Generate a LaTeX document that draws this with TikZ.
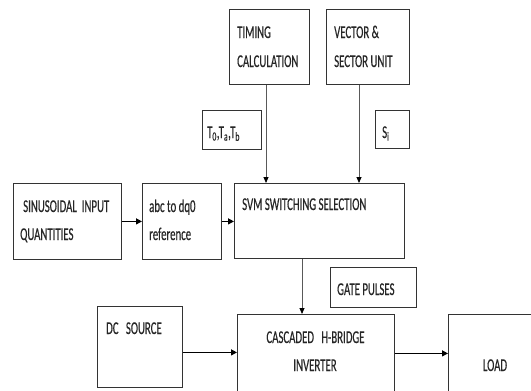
\documentclass[tikz,border=0pt]{standalone}
\usepackage{fontspec}
\newfontfamily\cf[FakeStretch=0.6,FakeBold=0.4]{Carlito}
\usetikzlibrary{arrows.meta,calc}
\begin{document}
\begin{tikzpicture}[x=1pt,y=-1pt,
  box/.style={draw=black!80, line width=0.8pt, anchor=north west, inner sep=0pt},
  lbl/.style={anchor=base west, inner sep=0pt, text=black!85, font=\cf\fontsize{18}{18}\selectfont},
  clbl/.style={anchor=base, inner sep=0pt, text=black!85, font=\cf\fontsize{18}{18}\selectfont},
  varr/.style={draw=black!65, line width=0.8pt, -{Triangle[length=6pt,width=5pt,fill=black,color=black]}},
  harr/.style={draw=black, line width=1.2pt, -{Triangle[length=6pt,width=6pt]}}]
\useasboundingbox (0,0) rectangle (531,391);
\clip (0,0) rectangle (531,391);
\fill[white] (0,0) rectangle (531,391);
% boxes
\node[box, minimum width=80pt, minimum height=75pt] (timing) at (229,9) {};
\node[box, minimum width=83pt, minimum height=75pt] (vec) at (326,9) {};
\node[box, minimum width=59pt, minimum height=39pt] (tbox) at (202,110) {};
\node[box, minimum width=34pt, minimum height=38pt] (sbox) at (375,110) {};
\node[box, minimum width=108pt, minimum height=76pt] (sin) at (13,183) {};
\node[box, minimum width=79pt, minimum height=76pt] (abc) at (142,183) {};
\node[box, minimum width=170pt, minimum height=75pt] (svm) at (234,183) {};
\node[box, minimum width=86pt, minimum height=40pt] (gate) at (330,267) {};
\node[box, minimum width=85pt, minimum height=81pt] (dc) at (97,306) {};
\node[box, minimum width=157pt, minimum height=90pt] (chb) at (237,314) {};
\node[box, minimum width=112pt, minimum height=90pt] (load) at (448,314) {};
% texts
\node[lbl] (t1) at (237,38) {TIMING};
\node[lbl] (t2) at (237,67) {CALCULATION};
\node[lbl] (v1) at (334,38) {VECTOR \&};
\node[lbl] (v2) at (334,67) {SECTOR UNIT};
\node[lbl] (tt) at (207,138) {T\textsubscript{0},T\textsubscript{a},T\textsubscript{b}};
\node[lbl] (st) at (382,138) {S\textsubscript{i}};
\node[lbl] (s1) at (23,212) {SINUSOIDAL\ \ INPUT};
\node[lbl] (s2) at (20,240) {QUANTITIES};
\node[lbl] (a1) at (149,212) {abc to dq0};
\node[lbl] (a2) at (149,240) {reference};
\node[lbl] (svt) at (242,210) {SVM SWITCHING SELECTION};
\node[lbl] (gt) at (337,295) {GATE PULSES};
\node[lbl] (dct) at (106,334) {DC\ \ \ SOURCE};
\node[clbl] (c1) at (315.5,343) {CASCADED\ \ \ H-BRIDGE};
\node[clbl] (c2) at (315,371) {INVERTER};
\node[clbl] (lt) at (495,371) {LOAD};
% connectors
\draw[varr] ([xshift=37pt]timing.south west) -- ([xshift=37pt]timing.south west |- svm.north);
\draw[varr] ([xshift=33pt]vec.south west) -- ([xshift=33pt]vec.south west |- svm.north);
\draw[varr] ([xshift=68pt]svm.south west) -- ([xshift=68pt]svm.south west |- chb.north);
\draw[harr] (sin.east) -- (abc.west);
\draw[harr] (abc.east) -- (abc.east -| svm.west);
\draw[harr] ([yshift=-5.5pt]dc.east) -- ([yshift=-5.5pt]dc.east -| chb.west);
\draw[harr] ([yshift=6pt]chb.east) -- ([yshift=6pt]chb.east -| load.west);
\end{tikzpicture}
\end{document}
